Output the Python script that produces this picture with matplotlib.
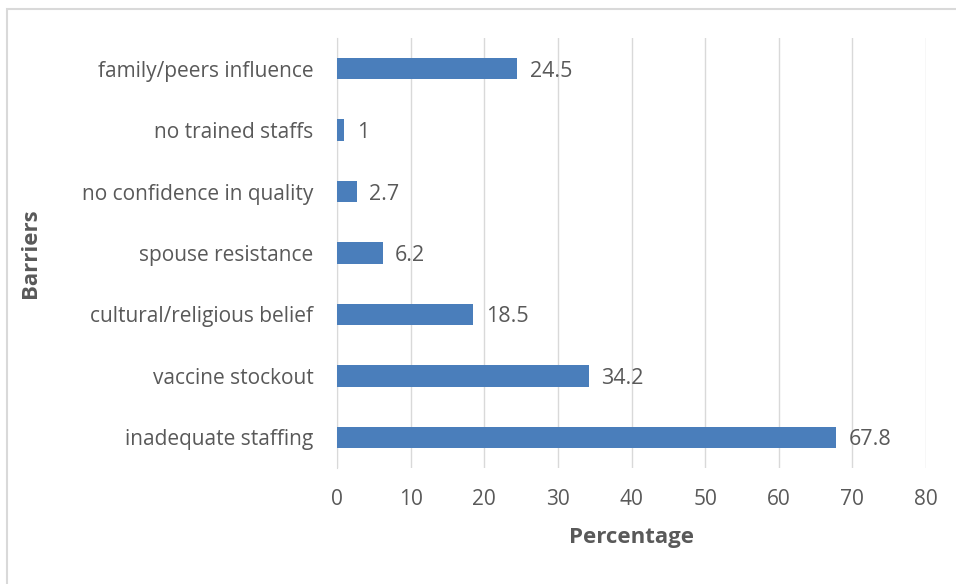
import matplotlib
matplotlib.use("Agg")
import matplotlib.pyplot as plt
from matplotlib.patches import Rectangle

categories = ["inadequate staffing", "vaccine stockout", "cultural/religious belief",
              "spouse resistance", "no confidence in quality", "no trained staffs",
              "family/peers influence"]
values = [67.8, 34.2, 18.5, 6.2, 2.7, 1, 24.5]
value_labels = ["67.8", "34.2", "18.5", "6.2", "2.7", "1", "24.5"]
xticks = [0, 10, 20, 30, 40, 50, 60, 70, 80]

plt.rcParams['font.family'] = ['Open Sans', 'DejaVu Sans']
text_color = "#595959"
bar_color = "#4A7EBB"
grid_color = "#D9D9D9"

fig = plt.figure(figsize=(9.56, 5.84), dpi=100)
ax = fig.add_axes([337/956, 1-468/584, (926-337)/956, (468-38)/584])

y = list(range(len(categories)))
ax.barh(y, values, height=0.35, color=bar_color, zorder=3)
for yi, v, lab in zip(y, values, value_labels):
    ax.annotate(lab, (v, yi), xytext=(9, 0), textcoords="offset points",
                va="center_baseline", ha="left", fontsize=15.5, color=text_color)

ax.set_xlim(0, 80)
ax.set_ylim(-0.5, len(categories)-0.5)
ax.set_xticks(xticks)
ax.set_xticklabels([str(t) for t in xticks])
ax.set_yticks(y)
ax.set_yticklabels(categories)
ax.tick_params(axis="both", length=0, labelsize=15, labelcolor=text_color)
ax.tick_params(axis="y", pad=17)
ax.tick_params(axis="x", pad=15)
ax.grid(axis="x", color=grid_color, linewidth=1, zorder=0)
for s in ["top", "right", "bottom"]:
    ax.spines[s].set_visible(False)
ax.spines["left"].set_color(grid_color)

ax.set_xlabel("Percentage", fontsize=16, fontweight="bold", color=text_color, labelpad=12)
fig.text(30/956, 1-253/584, "Barriers", rotation=90, fontsize=16, fontweight="bold",
         color=text_color, ha="center", va="center")

fig.patches.append(Rectangle((7/956, -0.05), 1.1, 1-9/584+0.05, transform=fig.transFigure,
                             fill=False, edgecolor="#D9D9D9", linewidth=1.5))

fig.savefig("out.png", dpi=100, facecolor="white")
